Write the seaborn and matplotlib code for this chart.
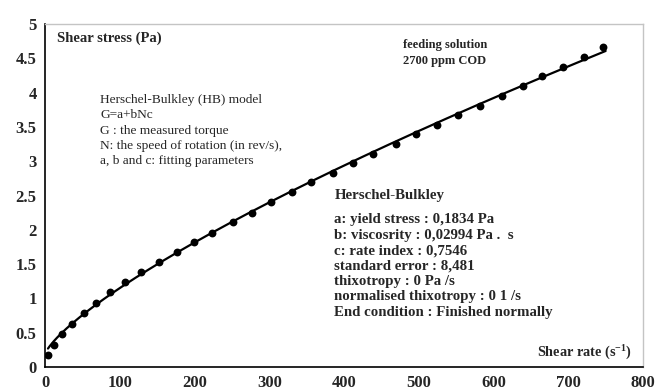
import numpy as np
import matplotlib
matplotlib.use("Agg")
import matplotlib.pyplot as plt
import seaborn as sns
import pandas as pd

# Measured flow curve of the feeding solution
shear_rate = [4, 12, 23, 36, 52, 68, 87, 107, 128, 152, 176, 199, 224, 251, 277, 303,
              330, 356, 385, 412, 439, 469, 496, 524, 553, 582, 611, 639, 665, 693, 721, 747]
shear_stress = [0.17, 0.32, 0.48, 0.63, 0.79, 0.94, 1.09, 1.24, 1.39, 1.53, 1.67, 1.82,
                1.96, 2.11, 2.25, 2.40, 2.55, 2.69, 2.83, 2.97, 3.11, 3.25, 3.39, 3.53,
                3.67, 3.81, 3.95, 4.10, 4.24, 4.38, 4.52, 4.66]

# Herschel-Bulkley fitting parameters
hb_a = 0.1834
hb_b = 0.02994
hb_c = 0.7546

x_ticks = [0, 100, 200, 300, 400, 500, 600, 700, 800]
y_ticks = [0, 0.5, 1, 1.5, 2, 2.5, 3, 3.5, 4, 4.5, 5]
y_tick_labels = ["0", "0.5", "1", "1.5", "2", "2.5", "3", "3.5", "4", "4.5", "5"]

model_lines = [
    "Herschel-Bulkley (HB) model",
    "G=a+bNc",
    "G : the measured torque",
    "N: the speed of rotation (in rev/s),",
    "a, b and c: fitting parameters",
]
result_lines = [
    "a: yield stress : 0,1834 Pa",
    "b: viscosrity : 0,02994 Pa .  s",
    "c: rate index : 0,7546",
    "standard error : 8,481",
    "thixotropy : 0 Pa /s",
    "normalised thixotropy : 0 1 /s",
    "End condition : Finished normally",
]

sns.set_style("white")
plt.rcParams["font.family"] = ["Liberation Serif", "DejaVu Serif"]
plt.rcParams["mathtext.fontset"] = "custom"
plt.rcParams["mathtext.rm"] = "Liberation Serif"
plt.rcParams["mathtext.bf"] = "Liberation Serif:bold"

fig = plt.figure(figsize=(6.56, 3.91), dpi=100)
ax = fig.add_axes([0.0686, 0.0614, 0.9116, 0.8772])

points = pd.DataFrame({"rate": shear_rate, "stress": shear_stress})
fit_x = np.linspace(shear_rate[0], 750, 300)
fit = pd.DataFrame({"rate": fit_x, "stress": hb_a + hb_b * fit_x ** hb_c})

sns.lineplot(data=fit, x="rate", y="stress", ax=ax, color="black", linewidth=1.6)
sns.scatterplot(data=points, x="rate", y="stress", ax=ax, color="black", s=32,
                edgecolor="black", linewidth=0, zorder=3)

ax.set_xlim(0, 800)
ax.set_ylim(0, 5)
ax.set_xticks(x_ticks)
ax.set_xticklabels([str(v) for v in x_ticks])
ax.set_yticks(y_ticks)
ax.set_yticklabels(y_tick_labels)
ax.set_xlabel("")
ax.set_ylabel("")
ax.tick_params(axis="both", direction="out", length=3.5, width=1, color="black",
               labelsize=12, pad=2.5)
ax.tick_params(axis="x", pad=2)
for lbl in ax.get_xticklabels() + ax.get_yticklabels():
    lbl.set_fontweight("bold")

for side in ("left", "bottom"):
    ax.spines[side].set_color("black")
    ax.spines[side].set_linewidth(1.2)
for side in ("top", "right"):
    ax.spines[side].set_color("#c4c4c4")
    ax.spines[side].set_linewidth(1.0)

ax.text(0.020, 0.959, "Shear stress (Pa)", transform=ax.transAxes, fontsize=10.5,
        fontweight="bold", va="center", ha="left")
ax.text(0.982, 0.044, "Shear rate (s$^{\\mathbf{-1}}$)", transform=ax.transAxes,
        fontsize=10.3, fontweight="bold", va="center", ha="right")

ax.text(0.599, 0.939, "feeding solution", transform=ax.transAxes, fontsize=9,
        fontweight="bold", va="center", ha="left")
ax.text(0.599, 0.891, "2700 ppm COD", transform=ax.transAxes, fontsize=9,
        fontweight="bold", va="center", ha="left")

for i, line in enumerate(model_lines):
    ax.text(0.092, 0.778 - i * 15.2 / 343, line, transform=ax.transAxes, fontsize=9.6,
            va="center", ha="left")

ax.text(0.485, 0.501, "Herschel-Bulkley", transform=ax.transAxes, fontsize=10.7,
        fontweight="bold", va="center", ha="left")
for i, line in enumerate(result_lines):
    ax.text(0.484, 0.429 - i * 15.4 / 343, line, transform=ax.transAxes, fontsize=10.7,
            fontweight="bold", va="center", ha="left")

fig.savefig("out.png", dpi=100)
